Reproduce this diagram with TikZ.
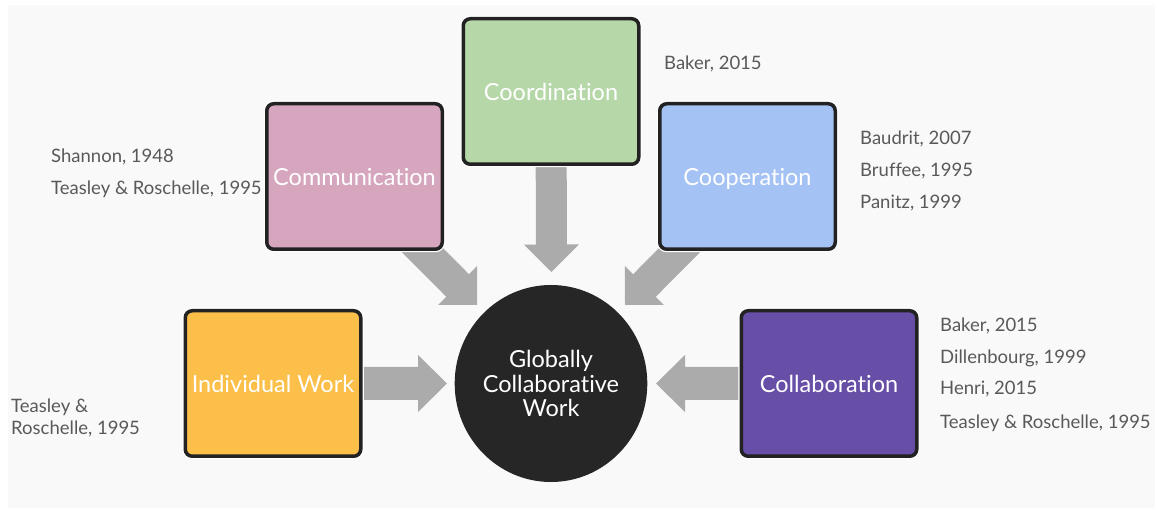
\documentclass[tikz,border=0pt]{standalone}
\usepackage{fontspec}
\setmainfont{Lato}[Ligatures=NoCommon]
\usetikzlibrary{calc,shapes.geometric}
\definecolor{panelbg}{HTML}{F9F9F9}
\definecolor{cgreen}{HTML}{B6D7A8}
\definecolor{cpink}{HTML}{D5A6BD}
\definecolor{cblue}{HTML}{A4C2F4}
\definecolor{corange}{HTML}{FBBF4A}
\definecolor{cpurple}{HTML}{674EA7}
\definecolor{cdark}{HTML}{262626}
\definecolor{cborder}{HTML}{222222}
\definecolor{carrow}{HTML}{ABABAB}
\definecolor{citegray}{HTML}{595959}
\pgfdeclarelayer{backlayer}
\pgfdeclarelayer{arrowlayer}
\pgfsetlayers{backlayer,arrowlayer,main}
% block arrow: #1 start, #2 tip, #3 shaft half width, #4 head half width, #5 head length
\newcommand\blockarrow[5]{%
  \coordinate (aH) at ($(#2)!#5!(#1)$);
  \fill[arrowfill]
    ($(#1)!#3!90:(#2)$) -- ($(aH)!#3!90:(#2)$) -- ($(aH)!#4!90:(#2)$) -- (#2)
    -- ($(aH)!#4!-90:(#2)$) -- ($(aH)!#3!-90:(#2)$) -- ($(#1)!#3!-90:(#2)$) -- cycle;
}
\begin{document}
\begin{tikzpicture}[x=1pt,y=-1pt,
  box/.style={draw=cborder, line width=3.5pt, rounded corners=7pt,
    minimum width=175.5pt, minimum height=145.5pt, inner sep=0pt,
    text height=18pt, text depth=0pt,
    text=white, font=\fontsize{23.5}{27}\selectfont,
    preaction={draw=white, line width=6pt}},
  hub/.style={ellipse, fill=cdark, minimum width=188pt, minimum height=197pt,
    inner sep=0pt, text=white, align=center,
    font=\fontsize{23.5}{24.5}\selectfont},
  cite/.style={anchor=base west, inner sep=0pt, text=citegray,
    font=\fontsize{18.5}{22}\selectfont},
  arrowfill/.style={fill=carrow}]
\useasboundingbox (0,0) rectangle (1157,510);
\begin{pgfonlayer}{backlayer}
  \fill[white] (0,0) rectangle (1157,510);
  \fill[panelbg] (8,5) rectangle (1155,508);
\end{pgfonlayer}

% boxes
\node[box, fill=cgreen]  (coord)  at (551,91.5)    {Coordination};
\node[box, fill=cpink]   (comm)   at (354.5,176.5) {Communication};
\node[box, fill=cblue]   (coop)   at (747.5,176.5) {Cooperation};
\node[box, fill=corange] (indiv)  at (273,383.5)   {Individual Work};
\node[box, fill=cpurple] (collab) at (829,383.5)   {Collaboration};

% hub
\node[hub] (gcw) at (551,383.5) {Globally\\Collaborative\\Work};

% arrow tips (free ends)
\coordinate (tcoord)  at (551.5,272);
\coordinate (tcomm)   at (477,305);
\coordinate (tcoop)   at (625,305);
\coordinate (tindiv)  at (447,383.5);
\coordinate (tcollab) at (656,383.5);

\begin{pgfonlayer}{arrowlayer}
  \blockarrow{coord.center}{tcoord}{15.5pt}{27.5pt}{27.5pt}
  \blockarrow{$(comm.center)+(25.5,31)$}{tcomm}{16pt}{27.5pt}{27.5pt}
  \blockarrow{$(coop.center)+(-25.5,31)$}{tcoop}{16pt}{27.5pt}{27.5pt}
  \blockarrow{indiv.center}{tindiv}{16.5pt}{28.5pt}{29pt}
  \blockarrow{collab.center}{tcollab}{16.5pt}{28.5pt}{29pt}
\end{pgfonlayer}

% references
\node[cite] (r1) at (664,69.5) {Baker, 2015};
\node[cite] (r2) at (51,162.7) {Shannon, 1948};
\node[cite] (r3) at (51,195) {Teasley \& Roschelle, 1995};
\node[cite] (r4) at (860,144.5) {Baudrit, 2007};
\node[cite] (r5) at (860,176.5) {Bruffee, 1995};
\node[cite] (r6) at (860,208.5) {Panitz, 1999};
\node[cite] (r7) at (940,331.7) {Baker, 2015};
\node[cite] (r8) at (940,363.3) {Dillenbourg, 1999};
\node[cite] (r9) at (940,395) {Henri, 2015};
\node[cite] (r10) at (940,428.3) {Teasley \& Roschelle, 1995};
\node[cite] (r11) at (11,412.5) {Teasley \&};
\node[cite] (r12) at (11,434.5) {Roschelle, 1995};
\end{tikzpicture}
\end{document}
